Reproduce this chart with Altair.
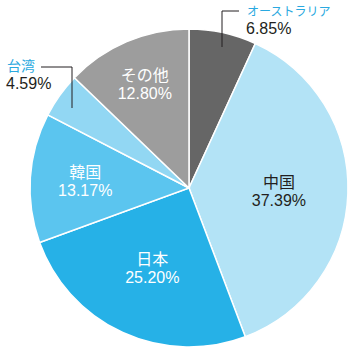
import altair as alt
import pandas as pd

categories = ["オーストラリア", "中国", "日本", "韓国", "台湾", "その他"]
shares = [6.85, 37.39, 25.20, 13.17, 4.59, 12.80]

slice_colors = ["#666666", "#b3e3f6", "#26b1e7", "#5bc5ef", "#92d7f3", "#9d9d9d"]
FONT = "Liberation Sans, Arial, Noto Sans CJK JP"

df = pd.DataFrame({"cat": categories, "share": shares, "idx": list(range(len(categories)))})

CX, CY, R = 189, 188, 159

arcs = alt.Chart(df).mark_arc(stroke="white", strokeWidth=1.5).encode(
    theta=alt.Theta("share:Q", stack=True),
    order=alt.Order("idx:Q"),
    color=alt.Color("cat:N", scale=alt.Scale(domain=categories, range=slice_colors), legend=None),
    x=alt.value(CX), y=alt.value(CY), radius=alt.value(R),
)

inside = alt.Chart(df).transform_window(
    cum="sum(share)", sort=[alt.SortField("idx")], frame=[None, 0]
).transform_joinaggregate(
    total="sum(share)"
).transform_filter(
    "datum.cat != 'オーストラリア' && datum.cat != '台湾'"
).transform_calculate(
    label="datum.cat + '\\n' + format(datum.share, '.2f') + '%'",
    tc="datum.cat == '中国' ? '#231f20' : '#ffffff'",
    lr="datum.cat == '中国' ? 90 : datum.cat == '日本' ? 88 : datum.cat == '韓国' ? 104 : 113",
    mid="(datum.cum - datum.share / 2) / datum.total * 2 * PI",
).transform_calculate(
    px=f"{CX} + datum.lr * sin(datum.mid)",
    py=f"{CY} - datum.lr * cos(datum.mid)",
).mark_text(font=FONT, fontSize=16, lineBreak="\n", lineHeight=18, align="center", baseline="middle", dy=-8).encode(
    text="label:N",
    color=alt.Color("tc:N", scale=None),
    x=alt.X("px:Q", scale=None, axis=None),
    y=alt.Y("py:Q", scale=None, axis=None),
)

def name_pct(i, xn, yn, xp, yp, fs):
    one = alt.Chart(pd.DataFrame({"a": [0]}))
    n = one.mark_text(font=FONT, fontSize=fs, align="left", baseline="middle", color="#2aa9e0").encode(
        x=alt.value(xn), y=alt.value(yn), text=alt.value(categories[i]))
    p = one.mark_text(font=FONT, fontSize=16, align="left", baseline="middle", color="#231f20").encode(
        x=alt.value(xp), y=alt.value(yp), text=alt.value(f"{shares[i]:.2f}%"))
    return n + p

aus = name_pct(0, 247, 12, 246, 29, 12)
twn = name_pct(4, 7, 67, 6, 84, 14)

def rule(x1, y1, x2, y2):
    return alt.Chart(pd.DataFrame({"a": [0]})).mark_rule(color="#231f20", strokeWidth=1).encode(
        x=alt.value(x1), y=alt.value(y1), x2=alt.value(x2), y2=alt.value(y2))

lines = rule(222, 11, 239, 11) + rule(222, 11, 222, 47) + rule(41, 67, 72, 67) + rule(72, 67, 72, 108)

chart = alt.layer(arcs, inside, aus, twn, lines).properties(
    width=353, height=353, padding=0, autosize=alt.AutoSizeParams(type="none"),
    background="white",
).configure_view(stroke=None)

chart.save("out.html", embed_options={"renderer": "svg", "actions": False})
